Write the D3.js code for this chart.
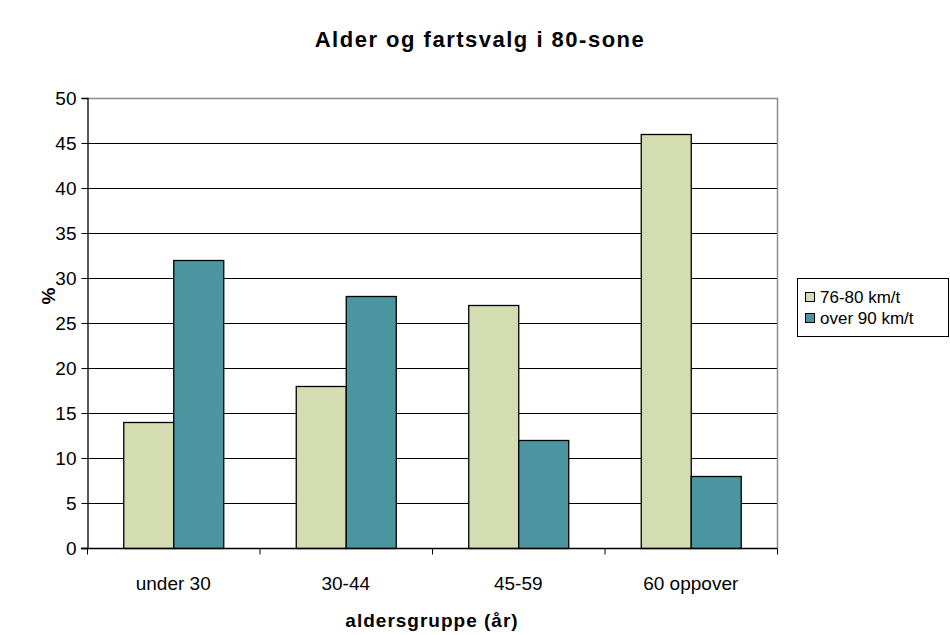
<!DOCTYPE html>
<html>
<head>
<meta charset="utf-8">
<script src="https://cdn.jsdelivr.net/npm/d3@7"></script>
<style>
  body { margin: 0; background: #fff; }
  text { font-family: "Liberation Sans", Arial, sans-serif; fill: #000; }
</style>
</head>
<body>
<div id="chart"></div>
<script>
var categories = ["under 30", "30-44", "45-59", "60 oppover"];
var seriesNames = ["76-80 km/t", "over 90 km/t"];
var slowValues = [14, 18, 27, 46];
var fastValues = [32, 28, 12, 8];
var yTicks = [0, 5, 10, 15, 20, 25, 30, 35, 40, 45, 50];

var colors = ["#d4dcb1", "#4a959f"];

var W = 950, H = 635;
var margin = { top: 98, left: 87 },
    width = 690,
    height = 450;

var svg = d3.select("#chart")
    .append("svg")
    .attr("width", W)
    .attr("height", H);

// title
svg.append("text")
    .attr("x", 480)
    .attr("y", 47)
    .attr("text-anchor", "middle")
    .style("font-size", "22px")
    .style("font-weight", "bold")
    .style("letter-spacing", "1.5px")
    .text("Alder og fartsvalg i 80-sone");

var g = svg.append("g")
    .attr("transform", "translate(" + margin.left + "," + margin.top + ")");

var x0 = d3.scaleBand().domain(categories).range([0, width]);
var x1 = d3.scaleBand().domain(seriesNames).range([0, x0.bandwidth()])
    .paddingInner(0).paddingOuter(0.725);
var y = d3.scaleLinear().domain([0, 50]).range([height, 0]);

// gridlines
g.selectAll(".grid")
    .data(yTicks.filter(function (d) { return d > 0 && d < 50; }))
    .enter().append("line")
    .attr("x1", 0).attr("x2", width)
    .attr("y1", function (d) { return y(d) + 0.5; })
    .attr("y2", function (d) { return y(d) + 0.5; })
    .attr("stroke", "#000")
    .attr("stroke-width", 1);

// gray frame top & right
g.append("path")
    .attr("d", "M0," + (y(50) + 0.5) + "H" + (width + 0.5) + "V" + height)
    .attr("fill", "none")
    .attr("stroke", "#8c8c8c")
    .attr("stroke-width", 1.5);

var rows = categories.map(function (c, i) {
    return { cat: c, values: [slowValues[i], fastValues[i]] };
});

var groups = g.selectAll(".grp")
    .data(rows)
    .enter().append("g")
    .attr("transform", function (d) { return "translate(" + x0(d.cat) + ",0)"; });

groups.selectAll("rect")
    .data(function (d) {
        return d.values.map(function (v, j) { return { key: seriesNames[j], value: v, idx: j }; });
    })
    .enter().append("rect")
    .attr("x", function (d) { return x1(d.key) + 0.5; })
    .attr("y", function (d) { return y(d.value) + 0.5; })
    .attr("width", x1.bandwidth())
    .attr("height", function (d) { return height - y(d.value); })
    .attr("fill", function (d) { return colors[d.idx]; })
    .attr("stroke", "#000")
    .attr("stroke-width", 1.3);

// y axis
var yAxis = d3.axisLeft(y).tickValues(yTicks).tickSize(6).tickPadding(5);
var yg = g.append("g").attr("transform", "translate(0.5,0)").call(yAxis);
yg.select(".domain").attr("stroke", "#000").attr("stroke-width", 1.3);
yg.selectAll(".tick line").attr("stroke", "#000");
yg.selectAll(".tick text").style("font-size", "19px");

// x axis
var xg = g.append("g").attr("transform", "translate(0," + (height + 0.5) + ")");
xg.append("line")
    .attr("x1", -6).attr("x2", width + 0.5)
    .attr("stroke", "#000").attr("stroke-width", 1.3);
xg.selectAll(".xtick")
    .data(d3.range(categories.length + 1))
    .enter().append("line")
    .attr("x1", function (i) { return i * x0.step() + 0.5; })
    .attr("x2", function (i) { return i * x0.step() + 0.5; })
    .attr("y1", 0).attr("y2", 6)
    .attr("stroke", "#000");
xg.selectAll(".xlab")
    .data(categories)
    .enter().append("text")
    .attr("x", function (d) { return x0(d) + x0.bandwidth() / 2; })
    .attr("y", 41)
    .attr("text-anchor", "middle")
    .style("font-size", "19px")
    .text(function (d) { return d; });

// axis titles
svg.append("text")
    .attr("x", margin.left + width / 2)
    .attr("y", 627)
    .attr("text-anchor", "middle")
    .style("font-size", "19px")
    .style("font-weight", "bold")
    .style("letter-spacing", "1px")
    .text("aldersgruppe (år)");

svg.append("text")
    .attr("transform", "translate(55,296) rotate(-90)")
    .attr("text-anchor", "middle")
    .style("font-size", "19px")
    .style("font-weight", "bold")
    .text("%");

// legend
var leg = svg.append("g").attr("transform", "translate(797,278)");
leg.append("rect")
    .attr("x", 0.5).attr("y", 0.5)
    .attr("width", 151).attr("height", 58)
    .attr("fill", "#fff")
    .attr("stroke", "#000");
var items = leg.selectAll(".item")
    .data(seriesNames)
    .enter().append("g")
    .attr("transform", function (d, i) { return "translate(0," + (19 + i * 21) + ")"; });
items.append("rect")
    .attr("x", 8.5).attr("y", -4.5)
    .attr("width", 9).attr("height", 9)
    .attr("fill", function (d, i) { return colors[i]; })
    .attr("stroke", "#000");
items.append("text")
    .attr("x", 23)
    .attr("y", 6)
    .style("font-size", "17px")
    .text(function (d) { return d; });
</script>
</body>
</html>
